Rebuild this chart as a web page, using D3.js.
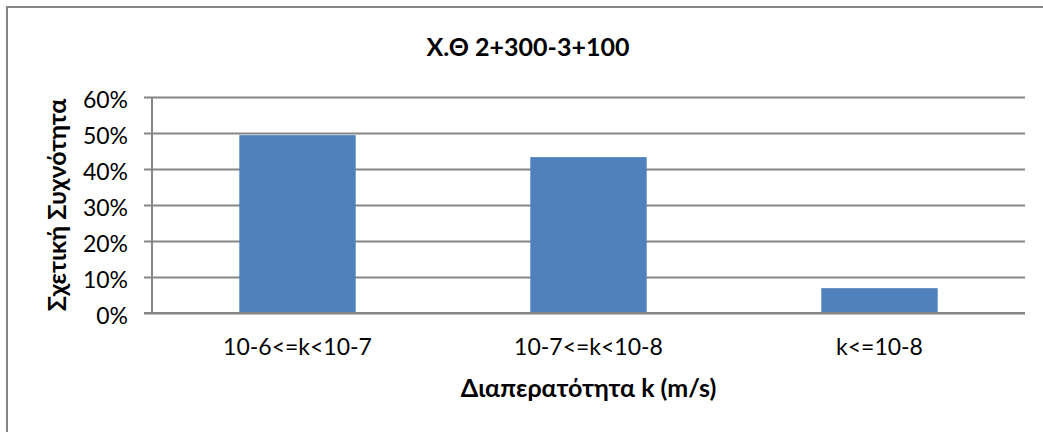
<!DOCTYPE html>
<html>
<head>
<meta charset="utf-8">
<script src="https://cdn.jsdelivr.net/npm/d3@7/dist/d3.min.js"></script>
<style>
  html, body { margin: 0; padding: 0; background: #fff; }
  svg { display: block; }
  text { font-family: Lato, "Open Sans", sans-serif; fill: #000; }
</style>
</head>
<body>
<svg id="chart" width="1043" height="432"></svg>
<script>
// Permeability classes and their relative frequencies
const categories = ["10-6<=k<10-7", "10-7<=k<10-8", "k<=10-8"];
const frequencies = [0.494, 0.433, 0.069];
const yTicks = [0, 0.1, 0.2, 0.3, 0.4, 0.5, 0.6];

const titleText = "Χ.Θ 2+300-3+100";
const yTitle = "Σχετική Συχνότητα";
const xTitle = "Διαπερατότητα k (m/s)";

const W = 1043, H = 432;
const margin = { left: 152, right: 18, top: 97, bottom: 119 };
const gridColor = "#868686";
const svg = d3.select("#chart");

// Chart frame (runs past the right and bottom edges)
svg.append("rect")
  .attr("x", 7).attr("y", 7)
  .attr("width", W + 20).attr("height", H + 20)
  .attr("fill", "#fff")
  .attr("stroke", gridColor).attr("stroke-width", 2);

const x = d3.scaleBand()
  .domain(categories)
  .range([margin.left, W - margin.right])
  .paddingInner(0.6)
  .paddingOuter(0.3);

const y = d3.scaleLinear()
  .domain([0, 0.6])
  .range([H - margin.bottom, margin.top]);

// Horizontal gridlines with percentage labels
const yAxis = d3.axisLeft(y)
  .tickValues(yTicks)
  .tickFormat(d3.format(".0%"))
  .tickSize(-(W - margin.right - margin.left));

const gy = svg.append("g")
  .attr("transform", `translate(${margin.left},0)`)
  .call(yAxis);
gy.select(".domain").remove();
gy.selectAll(".tick line")
  .attr("x1", -8)
  .attr("stroke", gridColor)
  .attr("stroke-width", 2);
gy.selectAll(".tick text")
  .attr("x", -24)
  .attr("dy", "0.45em")
  .style("font-size", "23px")
  .style("font-family", "Lato, 'Open Sans', sans-serif");

// Vertical axis line
svg.append("line")
  .attr("x1", margin.left).attr("x2", margin.left)
  .attr("y1", y(0.6)).attr("y2", y(0))
  .attr("stroke", gridColor).attr("stroke-width", 2);

// Bars
svg.append("g").selectAll("rect")
  .data(categories.map((c, i) => ({ c, v: frequencies[i] })))
  .join("rect")
  .attr("x", d => x(d.c))
  .attr("width", x.bandwidth())
  .attr("y", d => y(d.v))
  .attr("height", d => y(0) - y(d.v))
  .attr("fill", "#4F81BD");

// Baseline over the bar bottoms
svg.append("line")
  .attr("x1", margin.left - 8).attr("x2", W - margin.right)
  .attr("y1", y(0)).attr("y2", y(0))
  .attr("stroke", gridColor).attr("stroke-width", 2);

// Category labels
const xAxis = d3.axisBottom(x).tickSize(0).tickPadding(26);
const gx = svg.append("g")
  .attr("transform", `translate(0,${y(0)})`)
  .call(xAxis);
gx.select(".domain").remove();
gx.selectAll(".tick text")
  .style("font-size", "23px")
  .style("font-family", "Lato, 'Open Sans', sans-serif");

// Titles
svg.append("text")
  .attr("x", 528).attr("y", 56)
  .attr("text-anchor", "middle")
  .style("font-size", "25px").style("font-weight", "bold")
  .text(titleText);

svg.append("text")
  .attr("x", (margin.left + W - margin.right) / 2).attr("y", 397)
  .attr("text-anchor", "middle")
  .style("font-size", "25px").style("font-weight", "bold")
  .text(xTitle);

svg.append("text")
  .attr("transform", `translate(66,${(y(0) + y(0.6)) / 2}) rotate(-90)`)
  .attr("text-anchor", "middle")
  .style("font-size", "25px").style("font-weight", "bold")
  .text(yTitle);
</script>
</body>
</html>
